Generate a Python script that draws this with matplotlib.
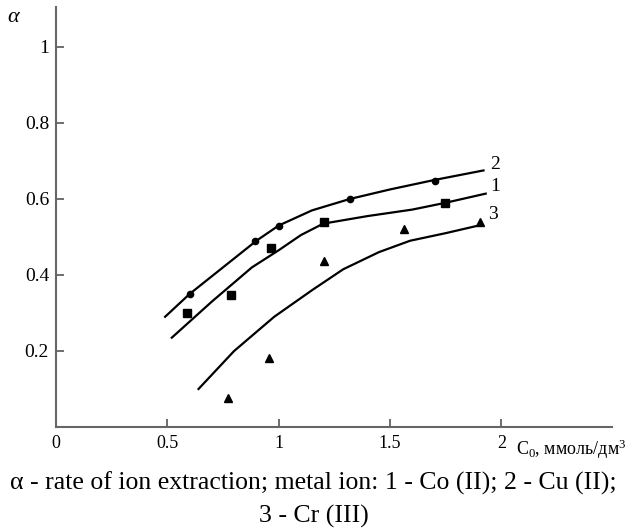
#!/usr/bin/python3
# -*- coding: utf-8 -*-

import matplotlib
matplotlib.use('Agg')
import matplotlib.pyplot as plt

plt.rcParams['font.family'] = ['Liberation Serif', 'DejaVu Serif']
plt.rcParams['mathtext.fontset'] = 'custom'
plt.rcParams['mathtext.rm'] = 'Liberation Serif'
plt.rcParams['mathtext.it'] = 'Liberation Serif:italic'

##################################################################
# Data (C0 in mmol/dm3, alpha)

# curve 2 - Cu (II), circles
cuLineX = [0.49, 0.60, 0.75, 0.90, 1.00, 1.15, 1.32, 1.50, 1.70, 1.92]
cuLineY = [0.29, 0.35, 0.42, 0.49, 0.53, 0.570, 0.600, 0.625, 0.650, 0.675]
cuX = [0.60, 0.895, 1.00, 1.32, 1.70]
cuY = [0.349, 0.489, 0.530, 0.599, 0.647]

# curve 1 - Co (II), squares
coLineX = [0.52, 0.70, 0.88, 1.00, 1.10, 1.20, 1.40, 1.60, 1.75, 1.93]
coLineY = [0.235, 0.33, 0.42, 0.465, 0.505, 0.535, 0.555, 0.572, 0.590, 0.614]
coX = [0.587, 0.785, 0.966, 1.205, 1.745]
coY = [0.300, 0.348, 0.471, 0.539, 0.589]

# curve 3 - Cr (III), triangles
crLineX = [0.64, 0.80, 0.98, 1.15, 1.29, 1.45, 1.59, 1.75, 1.89]
crLineY = [0.10, 0.20, 0.29, 0.36, 0.415, 0.460, 0.490, 0.510, 0.529]
crX = [0.771, 0.958, 1.204, 1.565, 1.906]
crY = [0.075, 0.182, 0.437, 0.520, 0.539]

xTicks = [0, 0.5, 1, 1.5, 2]
xTickLabels = ['0', '0.5', '1', '1.5', '2']
yTicks = [0.2, 0.4, 0.6, 0.8, 1.0]
yTickLabels = ['0.2', '0.4', '0.6', '0.8', '1']

##################################################################
# Prepare plotting
fig = plt.figure(figsize=(6.27, 5.29), dpi=100)
ax = fig.add_axes([56 / 627, 1 - 427 / 529, 556 / 627, 420 / 529])

ax.plot(cuLineX, cuLineY, color='black', lw=1.6)
ax.plot(coLineX, coLineY, color='black', lw=1.6)
ax.plot(crLineX, crLineY, color='black', lw=1.6)

ax.plot(cuX, cuY, 'o', color='black', ms=4.5, ls='none')
ax.plot(coX, coY, 's', color='black', ms=5.5, ls='none')
ax.plot(crX, crY, '^', color='black', ms=6, ls='none')

# curve numbers
ax.text(cuLineX[-1] + 0.03, cuLineY[-1] + 0.015, '2', fontsize=14, va='center')
ax.text(coLineX[-1] + 0.02, coLineY[-1] + 0.02, '1', fontsize=14, va='center')
ax.text(crLineX[-1] + 0.05, crLineY[-1] + 0.03, '3', fontsize=14, va='center')

ax.set_xlim(0, 2.497)
ax.set_ylim(0, 1.105)
ax.set_xticks(xTicks)
ax.set_xticklabels(xTickLabels)
ax.set_yticks(yTicks)
ax.set_yticklabels(yTickLabels)
ax.tick_params(direction='in', length=6, width=1.2, colors='#555555',
               labelcolor='black')
ax.tick_params(axis='x', pad=6, labelsize=13)
ax.tick_params(axis='y', pad=5, labelsize=14)

for side in ['top', 'right']:
    ax.spines[side].set_visible(False)
for side in ['left', 'bottom']:
    ax.spines[side].set_linewidth(1.5)
    ax.spines[side].set_color('#666666')

# axis names
fig.text(14.5 / 627, 1 - 18 / 529, r'$\it{\alpha}$', fontsize=16,
         ha='center', va='center')
fig.text(516 / 627, 1 - 455 / 529, r'C$_0$, ммоль/дм$^3$', fontsize=13,
         ha='left', va='baseline')

# caption
fig.text(0.5, 1 - 490 / 529,
         'α - rate of ion extraction; metal ion: 1 - Co (II); 2 - Cu (II);',
         fontsize=18.5, ha='center', va='baseline')
fig.text(0.5, 1 - 523 / 529, '3 - Cr (III)', fontsize=18.5,
         ha='center', va='baseline')

fig.savefig('out.png', dpi=100)
